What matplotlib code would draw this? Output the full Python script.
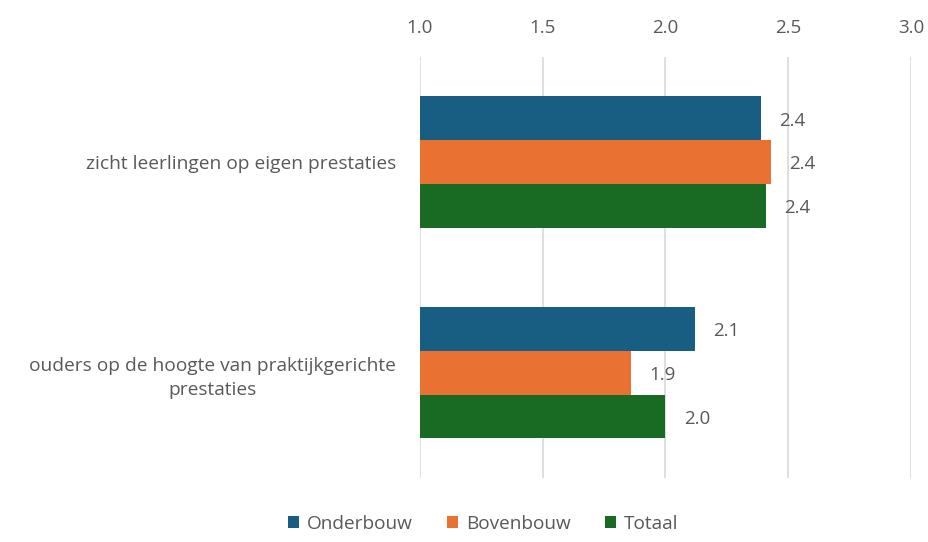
import numpy as np
import matplotlib.pyplot as plt

plt.rcParams['font.family'] = ['Open Sans', 'DejaVu Sans']

categorieen = ['zicht leerlingen op eigen prestaties',
               'ouders op de hoogte van praktijkgerichte\nprestaties']
reeksen = ['Onderbouw', 'Bovenbouw', 'Totaal']
waarden = {
    'Onderbouw': [2.39, 2.12],
    'Bovenbouw': [2.43, 1.86],
    'Totaal': [2.41, 2.00],
}
kleuren = {'Onderbouw': '#175E82', 'Bovenbouw': '#E97132', 'Totaal': '#196B24'}
tekst = '#595959'

fig = plt.figure(figsize=(9.29, 5.42), dpi=100)
ax = fig.add_axes([0.452, 0.118, 0.5286, 0.777])

y = np.arange(len(categorieen))
h = 0.208
for i, r in enumerate(reeksen):
    pos = y + (i - 1) * h
    ax.barh(pos, np.array(waarden[r]) - 1.0, left=1.0, height=h,
            color=kleuren[r], label=r, zorder=3)
    for p, v in zip(pos, waarden[r]):
        ax.text(v + 0.075, p + 0.01, f'{v:.1f}', va='center', ha='left',
                fontsize=13.5, color=tekst)

ax.set_xlim(1.0, 3.0)
ax.set_ylim(1.5, -0.5)
ax.set_xticks(np.arange(1.0, 3.01, 0.5))
ax.set_xticklabels([f'{t:.1f}' for t in np.arange(1.0, 3.01, 0.5)])
ax.xaxis.tick_top()
ax.tick_params(axis='x', length=0, pad=14, labelsize=13.5, labelcolor=tekst)
ax.set_yticks(y)
ax.set_yticklabels(categorieen, multialignment='center', linespacing=1.45)
ax.tick_params(axis='y', length=0, pad=17, labelsize=13.8, labelcolor=tekst)
ax.grid(axis='x', color='#D9D9D9', linewidth=1.2, zorder=0)
for s in ax.spines.values():
    s.set_visible(False)

fig.legend(loc='lower center', bbox_to_anchor=(0.52, -0.015), ncol=3,
           frameon=False, fontsize=13.7, labelcolor=tekst, handlelength=0.6,
           handleheight=0.6, handletextpad=0.4, columnspacing=1.8)

fig.savefig('out.png', dpi=100)
